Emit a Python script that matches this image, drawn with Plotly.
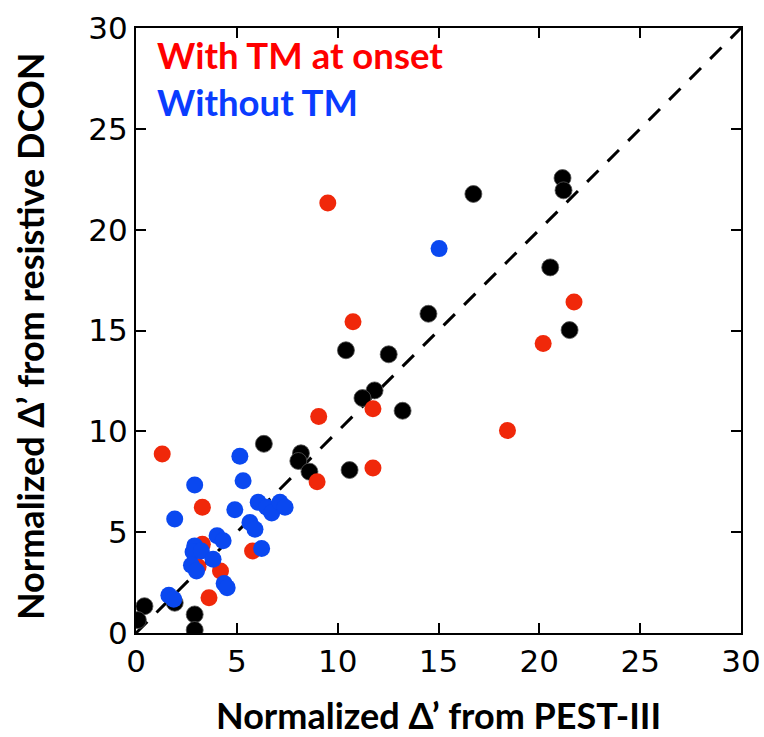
import plotly.graph_objects as go

# Data
red_x = [9.51, 10.76, 9.06, 11.75, 11.75, 8.98, 18.42, 20.19, 21.72, 1.30, 3.29, 3.29, 3.08, 4.19, 3.62, 5.78]
red_y = [21.32, 15.43, 10.74, 11.12, 8.18, 7.50, 10.04, 14.35, 16.41, 8.88, 6.23, 4.40, 3.29, 3.08, 1.75, 4.07]

blue_x = [15.03, 5.15, 5.31, 2.91, 1.92, 4.90, 6.06, 6.48, 6.73, 7.14, 7.39, 5.65, 5.90, 6.23,
          4.02, 4.32, 2.91, 2.83, 3.24, 3.82, 2.75, 3.00, 4.37, 4.52, 1.63, 1.87]
blue_y = [19.06, 8.77, 7.55, 7.34, 5.65, 6.11, 6.48, 6.23, 5.95, 6.48, 6.23, 5.48, 5.15, 4.19,
          4.82, 4.57, 4.32, 4.02, 4.07, 3.66, 3.36, 3.07, 2.46, 2.25, 1.87, 1.67]

black_x = [16.73, 21.15, 21.20, 20.54, 21.50, 14.50, 10.41, 12.53, 11.83, 11.23, 13.22, 8.18, 8.05,
           8.60, 10.59, 6.34, 0.42, 0.09, 1.92, 2.91, 2.91]
black_y = [21.77, 22.56, 21.95, 18.13, 15.02, 15.83, 14.02, 13.82, 12.03, 11.65, 11.02, 8.91, 8.53,
           8.00, 8.08, 9.38, 1.33, 0.64, 1.50, 0.92, 0.15]

diag = [0, 30]
ticks = [0, 5, 10, 15, 20, 25, 30]

fig = go.Figure()
fig.add_trace(go.Scatter(x=diag, y=diag, mode="lines",
                         line=dict(color="black", width=3, dash="16px,13px"),
                         hoverinfo="skip", showlegend=False))
fig.add_trace(go.Scatter(x=black_x, y=black_y, mode="markers", name="Other",
                         marker=dict(color="black", size=17,
                                     line=dict(color="#555555", width=0.8)),
                         showlegend=False))
fig.add_trace(go.Scatter(x=red_x, y=red_y, mode="markers", name="With TM at onset",
                         marker=dict(color="#F0280A", size=17, line=dict(width=0)),
                         showlegend=False))
fig.add_trace(go.Scatter(x=blue_x, y=blue_y, mode="markers", name="Without TM",
                         marker=dict(color="#0A48F0", size=17, line=dict(width=0)),
                         showlegend=False))

axis_common = dict(range=[0, 30], tickvals=ticks, ticks="inside", ticklen=10, tickwidth=2,
                   tickcolor="black", showline=True, linewidth=2, linecolor="black",
                   mirror="ticks", showgrid=False, zeroline=False, automargin=False,
                   tickfont=dict(family="DejaVu Sans", size=31, color="black"))

fig.update_xaxes(**axis_common)
fig.update_yaxes(**axis_common)

title_font = dict(family="Lato", size=36, color="black")
fig.update_layout(
    width=764, height=737,
    margin=dict(l=136, r=23, t=28, b=104),
    plot_bgcolor="white", paper_bgcolor="white",
    annotations=[
        dict(text="<b>With TM at onset</b>", x=0.031, y=0.955, xref="paper", yref="paper",
             xanchor="left", yanchor="middle", showarrow=False,
             font=dict(family="Lato", size=36.5, color="#FF0000")),
        dict(text="<b>Without TM</b>", x=0.031, y=0.878, xref="paper", yref="paper",
             xanchor="left", yanchor="middle", showarrow=False,
             font=dict(family="Lato", size=36.5, color="#0A3CFF")),
        dict(text="<b>Normalized Δ’ from PEST-III</b>", x=0.5, y=-0.135, xref="paper", yref="paper",
             xanchor="center", yanchor="middle", showarrow=False, font=title_font),
        dict(text="<b>Normalized Δ’ from resistive DCON</b>", x=-0.176, y=0.49, xref="paper",
             yref="paper", xanchor="center", yanchor="middle", textangle=-90,
             showarrow=False, font=title_font),
    ],
)

fig.write_html("out.html")
